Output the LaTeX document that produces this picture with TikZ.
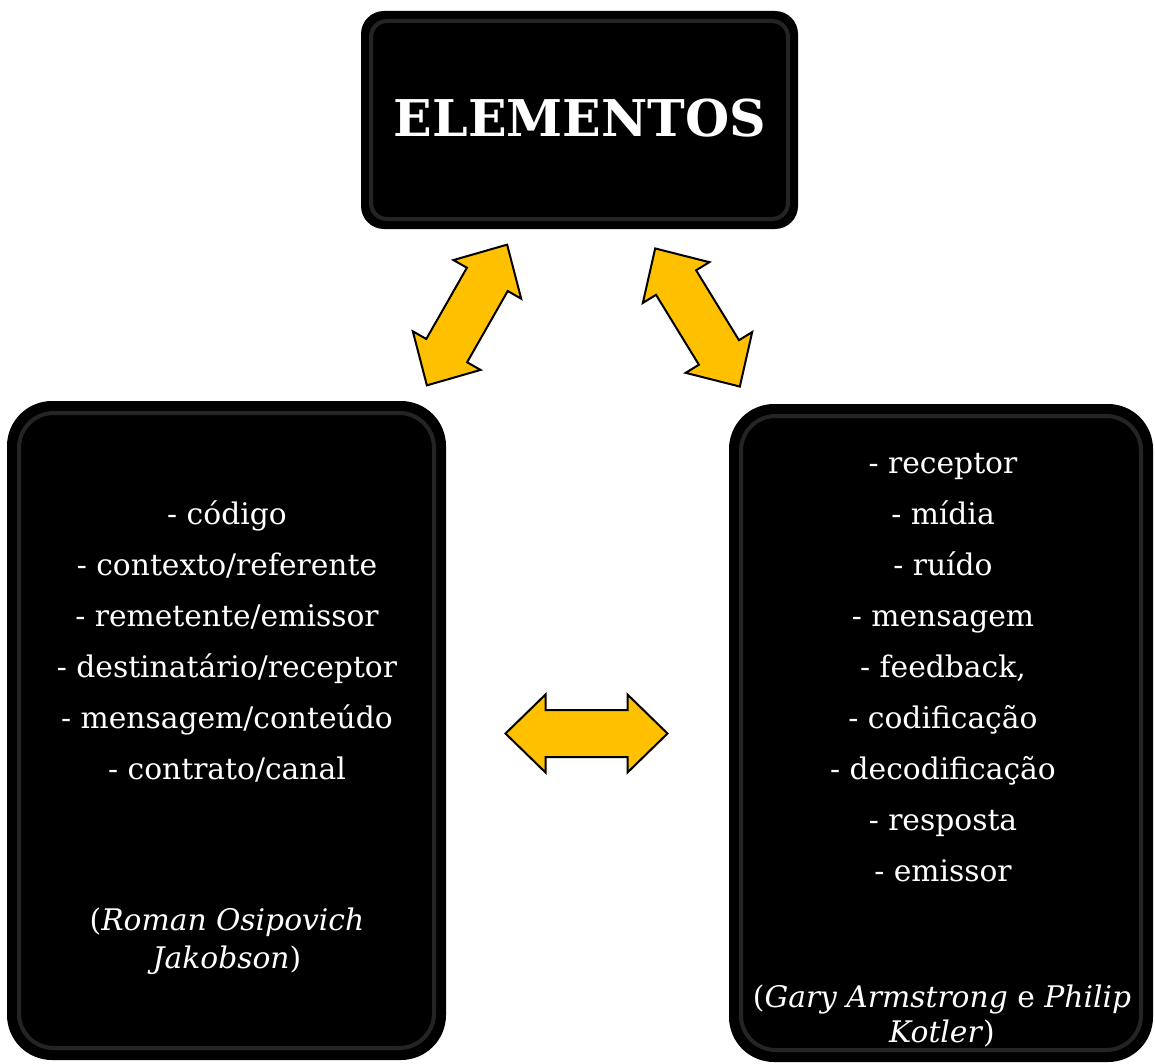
\documentclass[tikz,border=0pt]{standalone}
\usepackage{fontspec}
\setmainfont{DejaVu Serif}

\definecolor{amarelo}{RGB}{255,192,0}

\tikzset{
	caixa/.style={fill=black, draw=black, line width=1.5pt, inner sep=0pt},
	brilho/.style={draw=white, line width=3pt, opacity=0.14},
	texto/.style={text=white, anchor=base, font=\fontsize{22.3}{26}\selectfont},
	titulo/.style={text=white, anchor=base, font=\fontsize{38}{44}\selectfont\bfseries},
	setabloco/.style={fill=amarelo, draw=black, line width=1.5pt, line join=miter},
	setadupla/.pic={
		\draw[setabloco] (-81,0) -- (-41,-39) -- (-41,-23.5) -- (41,-23.5) -- (41,-39) -- (81,0)
			-- (41,39) -- (41,23.5) -- (-41,23.5) -- (-41,39) -- cycle;
	}
}

\begin{document}
\begin{tikzpicture}[x=0.75pt,y=0.75pt,yscale=-1,xscale=1]
		\useasboundingbox (0,0) rectangle (1155,1063);
		
		% caixas pretas
		\node[caixa, rounded corners=16.5pt, minimum width=326.25pt, minimum height=162pt] (topo) at (579.5,120) {};
		\node[caixa, rounded corners=33pt, minimum width=327.75pt, minimum height=492.75pt] (esq) at (226.5,730.5) {};
		\node[caixa, rounded corners=33pt, minimum width=316.5pt, minimum height=492pt] (dir) at (941,733) {};
		
		\draw[brilho, rounded corners=12pt] ([shift={(10,10)}]topo.north west) rectangle ([shift={(-10,-10)}]topo.south east);
		\draw[brilho, rounded corners=26pt] ([shift={(12,12)}]esq.north west) rectangle ([shift={(-12,-12)}]esq.south east);
		\draw[brilho, rounded corners=26pt] ([shift={(12,12)}]dir.north west) rectangle ([shift={(-12,-12)}]dir.south east);
		
		
		% setas
		\pic[rotate=60.3] at (467,315) {setadupla};
		\pic[rotate=-58.5] at (697.5,317.5) {setadupla};
		\pic at (586.5,733.5) {setadupla};
		
		
		% textos
		\node[titulo] (tit) at (580,136) {ELEMENTOS};
		
		\foreach \t [count=\i] in {{- código},{- contexto/referente},{- remetente/emissor},{- destinatário/receptor},{- mensagem/conteúdo},{- contrato/canal}}
			\node[texto] (e\i) at (227,{524+51*(\i-1)}) {\t};
		\node[texto] (autor1) at (227,930) {(\textit{Roman Osipovich}};
		\node[texto] (autor2) at (227,968) {\textit{Jakobson})};
		
		\foreach \t [count=\i] in {{- receptor},{- mídia},{- ruído},{- mensagem},{- feedback,},{- codificação},{- decodificação},{- resposta},{- emissor}}
			\node[texto] (d\i) at (943,{473+51*(\i-1)}) {\t};
		\node[texto] (autor3) at (942,1007) {(\textit{Gary Armstrong} e \textit{Philip}};
		\node[texto] (autor4) at (942,1042) {\textit{Kotler})};
		
\end{tikzpicture}
\end{document}
